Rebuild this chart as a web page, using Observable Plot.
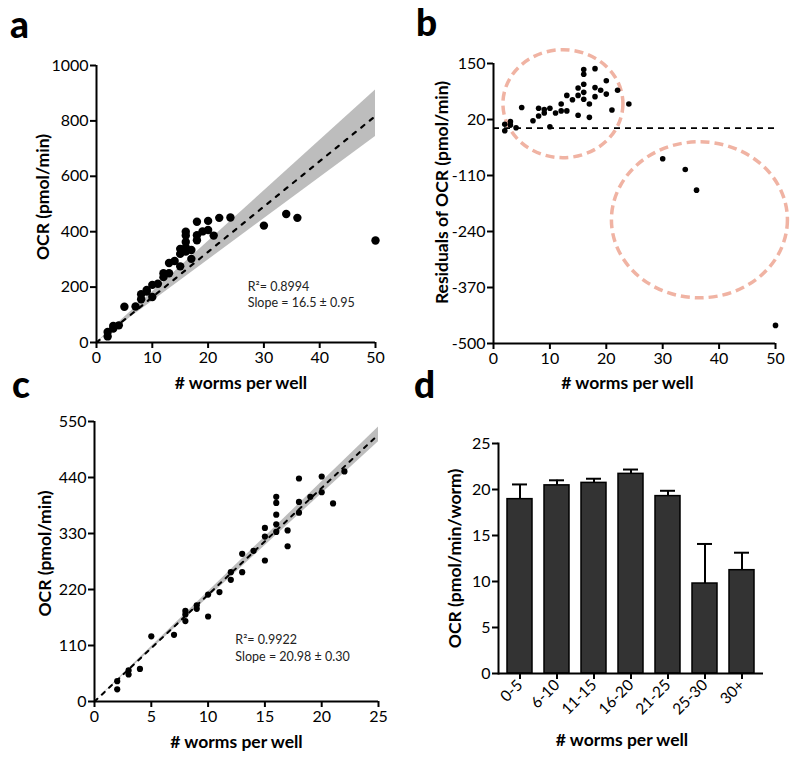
<!DOCTYPE html>
<html><head><meta charset="utf-8">
<script src="https://cdn.jsdelivr.net/npm/d3@7"></script>
<script src="https://cdn.jsdelivr.net/npm/@observablehq/plot@0.6"></script>
<style>
body{margin:0;background:#fff;}
#wrap{position:relative;width:800px;height:758px;font-family:Lato,sans-serif;}
.panel{position:absolute;}
.letter{position:absolute;font-family:Lato,sans-serif;font-weight:900;font-size:37px;line-height:1;}
</style></head><body><div id="wrap"></div>
<script>
// ---------- Panel a: OCR vs worms ----------
const aWorms = [2,2,3,3,4,5,7,8,8,9,9,10,10,11,12,12,13,13,14,15,15,15,16,16,16,16,16,17,17,18,18,18,19,20,20,21,22,24,30,34,36,50];
const aOCR   = [38,22,60,50,62,129,130,174,156,184,190,208,164,212,250,236,287,250,294,338,320,275,400,386,363,343,328,334,302,436,387,369,401,439,406,386,450,451,422,464,450,368];
const aFitX = [0, 50];
const aFitY = [0, 818];
const aBandLow = [0, 744];
const aBandHigh = [0, 912];
const aTicksX = [0,10,20,30,40,50];
const aTicksY = [0,200,400,600,800,1000];
const aStats = ["R\u00B2= 0.8994", "Slope = 16.5 \u00B1 0.95"];
const aStatsY = [202, 141];

// ---------- Panel b: residuals ----------
const bWorms = [2,2,3,3,4,5,7,8,8,9,9,10,10,11,12,12,13,13,14,15,15,15,16,16,16,16,16,17,17,18,18,18,19,20,20,21,22,24,30,34,36,50];
const bResid = [9,-6,15,7,1,48,17,46,28,35,43,46,3,35,56,40,40,76,66,93,76,30,136,125,102,83,67,56,25,138,94,73,88,110,79,42,88,56,-71,-96,-144,-458];
const bTicksX = [0,10,20,30,40,50];
const bTicksY = [150,20,-110,-240,-370,-500];
const bCircleX = [12.4, 36.6];
const bCircleY = [55.5, -214];

// ---------- Panel c: OCR vs worms (restricted) ----------
const cWorms = [2,2,3,3,4,5,7,8,8,8,9,9,10,10,11,12,12,13,13,14,15,15,15,16,16,16,16,16,17,17,18,18,18,19,20,20,21,22];
const cOCR   = [40,24,61,53,64,128,131,178,171,158,189,182,210,167,215,239,254,290,254,296,341,324,277,402,390,367,348,333,336,305,438,392,371,402,442,411,389,452];
const cFitX = [0, 25];
const cFitY = [0, 524.5];
const cBandLow = [0, 510];
const cBandHigh = [0, 539];
const cTicksX = [0,5,10,15,20,25];
const cTicksY = [0,110,220,330,440,550];
const cStats = ["R\u00B2= 0.9922", "Slope = 20.98 \u00B1 0.30"];
const cStatsY = [120, 88];

// ---------- Panel d: OCR per worm by group ----------
const dGroups = ["0-5","6-10","11-15","16-20","21-25","25-30","30+"];
const dMean = [18.95, 20.45, 20.72, 21.70, 19.28, 9.78, 11.23];
const dErr  = [1.6, 0.55, 0.45, 0.47, 0.58, 4.3, 1.9];
const dTicksY = [0,5,10,15,20,25];

// ---------- helpers ----------
const FONT = "Lato, sans-serif";
const baseStyle = {fontFamily: FONT, fontSize: "16px", color: "black", background: "transparent", overflow: "visible"};
const titleOpts = {fontWeight: "bold", fontSize: 17.5, fill: "black", textAnchor: "middle", lineAnchor: "middle"};
const fmt = d => String(d);

function place(node, left, top) {
  const d = document.createElement("div");
  d.className = "panel";
  d.style.left = left + "px";
  d.style.top = top + "px";
  d.appendChild(node);
  document.getElementById("wrap").appendChild(d);
}
function letter(t, left, top) {
  const d = document.createElement("div");
  d.className = "letter";
  d.textContent = t;
  d.style.left = left + "px";
  d.style.top = top + "px";
  document.getElementById("wrap").appendChild(d);
}
function ellipses(cx, cy, rx, ry) {
  return (index, scales) => {
    const g = d3.create("svg:g");
    cx.forEach((x, i) => {
      g.append("ellipse")
        .attr("cx", scales.x(x)).attr("cy", scales.y(cy[i]))
        .attr("rx", rx[i]).attr("ry", ry[i])
        .attr("fill", "none").attr("stroke", "#f0b3a3")
        .attr("stroke-width", 3.5).attr("stroke-dasharray", "9,5");
    });
    return g.node();
  };
}

// ---------- Panel a ----------
const aPts = aWorms.map((x, i) => ({x, y: aOCR[i]}));
const aBand = aFitX.map((x, i) => ({x, lo: aBandLow[i], hi: aBandHigh[i], fit: aFitY[i]}));
const plotA = Plot.plot({
  width: 400, height: 400,
  marginLeft: 96, marginRight: 25, marginTop: 65, marginBottom: 58,
  style: baseStyle,
  x: {domain: [0, 50]},
  y: {domain: [0, 1000]},
  marks: [
    Plot.areaY(aBand, {x: "x", y1: "lo", y2: "hi", fill: "#bdbdbd"}),
    Plot.line(aBand, {x: "x", y: "fit", stroke: "black", strokeWidth: 2.2, strokeDasharray: "4,7"}),
    Plot.dot(aPts, {x: "x", y: "y", r: 4.2, fill: "black"}),
    Plot.ruleX([0], {strokeWidth: 2}),
    Plot.ruleY([0], {strokeWidth: 2}),
    Plot.axisX({ticks: aTicksX, tickFormat: fmt, tickSize: 6, tickPadding: 3, strokeWidth: 2, label: null, fontSize: 16}),
    Plot.axisY({ticks: aTicksY, tickFormat: fmt, tickSize: 6, tickPadding: 2, strokeWidth: 2, label: null, fontSize: 16}),
    Plot.text(aStats, {x: 27.1, y: (d, i) => aStatsY[i], text: d => d, textAnchor: "start", fontSize: 12.5, fill: "#222"}),
    Plot.text(["# worms per well"], {frameAnchor: "bottom", dx: 5, dy: 41, ...titleOpts}),
    Plot.text(["OCR (pmol/min)"], {frameAnchor: "left", rotate: -90, dx: -53, dy: -7, ...titleOpts})
  ]
});
place(plotA, 0, 0);

// ---------- Panel b ----------
const bPts = bWorms.map((x, i) => ({x, y: bResid[i]}));
const plotB = Plot.plot({
  width: 400, height: 400,
  marginLeft: 93, marginRight: 25, marginTop: 63, marginBottom: 57,
  style: baseStyle,
  x: {domain: [0, 50]},
  y: {domain: [-500, 150]},
  marks: [
    ellipses(bCircleX, bCircleY, [60, 88], [54, 78]),
    Plot.ruleY([0], {x1: 0, x2: 50, stroke: "black", strokeWidth: 1.8, strokeDasharray: "6,5"}),
    Plot.dot(bPts, {x: "x", y: "y", r: 2.8, fill: "black"}),
    Plot.ruleX([0], {strokeWidth: 2}),
    Plot.ruleY([-500], {strokeWidth: 2}),
    Plot.axisX({ticks: bTicksX, tickFormat: fmt, tickSize: 6, tickPadding: 3, strokeWidth: 2, label: null, fontSize: 16}),
    Plot.axisY({ticks: bTicksY, tickFormat: fmt, tickSize: 6, tickPadding: 2, strokeWidth: 2, label: null, fontSize: 16}),
    Plot.text(["# worms per well"], {frameAnchor: "bottom", dx: -7, dy: 40, ...titleOpts}),
    Plot.text(["Residuals of OCR (pmol/min)"], {frameAnchor: "left", rotate: -90, dx: -51, dy: -11, ...titleOpts})
  ]
});
place(plotB, 400, 0);

// ---------- Panel c ----------
const cPts = cWorms.map((x, i) => ({x, y: cOCR[i]}));
const cBand = cFitX.map((x, i) => ({x, lo: cBandLow[i], hi: cBandHigh[i], fit: cFitY[i]}));
const plotC = Plot.plot({
  width: 400, height: 378,
  marginLeft: 94, marginRight: 22, marginTop: 41, marginBottom: 57,
  style: baseStyle,
  x: {domain: [0, 25]},
  y: {domain: [0, 550]},
  marks: [
    Plot.areaY(cBand, {x: "x", y1: "lo", y2: "hi", fill: "#bdbdbd"}),
    Plot.line(cBand, {x: "x", y: "fit", stroke: "black", strokeWidth: 2, strokeDasharray: "4,6"}),
    Plot.dot(cPts, {x: "x", y: "y", r: 3.1, fill: "black"}),
    Plot.ruleX([0], {strokeWidth: 2}),
    Plot.ruleY([0], {strokeWidth: 2}),
    Plot.axisX({ticks: cTicksX, tickFormat: fmt, tickSize: 6, tickPadding: 3, strokeWidth: 2, label: null, fontSize: 16}),
    Plot.axisY({ticks: cTicksY, tickFormat: fmt, tickSize: 6, tickPadding: 2, strokeWidth: 2, label: null, fontSize: 16}),
    Plot.text(cStats, {x: 12.4, y: (d, i) => cStatsY[i], text: d => d, textAnchor: "start", fontSize: 12.5, fill: "#222"}),
    Plot.text(["# worms per well"], {frameAnchor: "bottom", dx: 0, dy: 41, ...titleOpts}),
    Plot.text(["OCR (pmol/min)"], {frameAnchor: "left", rotate: -90, dx: -49, dy: -8, ...titleOpts})
  ]
});
place(plotC, 0, 380);

// ---------- Panel d ----------
const dData = dGroups.map((g, i) => ({g, m: dMean[i], top: dMean[i] + dErr[i]}));
const plotD = Plot.plot({
  width: 400, height: 378,
  marginLeft: 98, marginRight: 37, marginTop: 63, marginBottom: 85,
  style: baseStyle,
  x: {type: "band", domain: dGroups, paddingInner: 0.337, paddingOuter: 0.19},
  y: {domain: [0, 25]},
  marks: [
    Plot.ruleX(dData, {x: "g", y1: "m", y2: "top", stroke: "black", strokeWidth: 2}),
    Plot.tickY(dData, {x: "g", y: "top", stroke: "black", strokeWidth: 2, insetLeft: 5, insetRight: 5}),
    Plot.barY(dData, {x: "g", y: "m", fill: "#333333", stroke: "black", strokeWidth: 1.5}),
    Plot.frame({anchor: "left", strokeWidth: 2}),
    Plot.ruleY([0], {strokeWidth: 2}),
    Plot.axisX({tickSize: 6, tickPadding: 3, strokeWidth: 2, label: null, tickRotate: -45, fontSize: 15.5}),
    Plot.axisY({ticks: dTicksY, tickFormat: fmt, tickSize: 6, tickPadding: 2, strokeWidth: 2, label: null, fontSize: 16}),
    Plot.text(["# worms per well"], {frameAnchor: "bottom", dx: -9, dy: 67, ...titleOpts}),
    Plot.text(["OCR (pmol/min/worm)"], {frameAnchor: "left", rotate: -90, dx: -43, dy: 0, ...titleOpts})
  ]
});
place(plotD, 400, 380);

letter("a", 10, 5);
letter("b", 416, 3);
letter("c", 12, 365);
letter("d", 414, 365);
</script>
</body></html>
